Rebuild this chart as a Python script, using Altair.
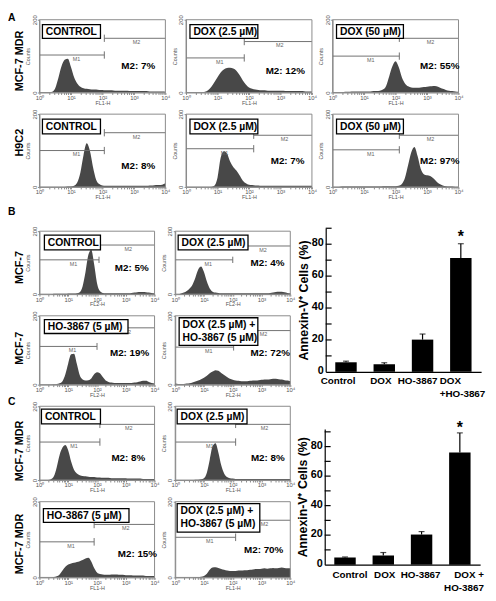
import altair as alt
import pandas as pd

FONT = "Liberation Sans"

# ---------------- data ----------------
# histogram bin positions (log10 of fluorescence) and counts per bin
LOG_BINS = [i / 10 for i in range(41)]

A1_COUNTS = [0, 0, 0, 0, 2, 12, 40, 72, 90, 93, 70, 42, 25, 16, 12, 10, 9, 8, 8, 7, 7,
             6, 6, 6, 5, 5, 5, 5, 5, 4, 4, 4, 4, 4, 4, 3, 3, 3, 3, 3, 2]
A2_COUNTS = [0, 0, 0, 0, 0, 0, 2, 6, 15, 28, 42, 55, 63, 67, 68, 66, 60, 48, 34, 22, 14,
             10, 8, 7, 6, 6, 5, 5, 5, 5, 5, 5, 4, 4, 4, 4, 4, 4, 3, 3, 3]
A3_COUNTS = [0, 0, 0, 1, 2, 2, 3, 3, 3, 3, 3, 3, 3, 4, 4, 5, 8, 18, 45, 72, 86,
             70, 42, 25, 17, 14, 13, 13, 14, 15, 16, 17, 18, 17, 14, 10, 7, 5, 4, 3, 2]
A4_COUNTS = [0, 0, 0, 0, 0, 0, 0, 0, 0, 1, 1, 3, 12, 40, 88, 120, 100, 55, 20, 8, 4,
             3, 3, 3, 3, 3, 3, 3, 3, 3, 3, 3, 3, 3, 3, 4, 4, 5, 5, 6, 10]
A5_COUNTS = [0, 0, 0, 0, 0, 0, 0, 0, 0, 3, 25, 80, 98, 92, 70, 55, 45, 32, 18, 10, 6,
             5, 4, 4, 3, 3, 3, 3, 3, 3, 3, 3, 3, 3, 3, 3, 3, 3, 3, 3, 3]
A6_COUNTS = [0, 0, 0, 1, 1, 1, 1, 1, 1, 1, 1, 1, 1, 1, 1, 1, 2, 2, 2, 2, 2,
             3, 8, 25, 60, 95, 110, 85, 50, 35, 32, 30, 24, 15, 8, 4, 2, 1, 1, 0, 0]
B1_COUNTS = [0, 0, 0, 0, 0, 1, 1, 1, 1, 1, 2, 2, 2, 3, 6, 25, 70, 125, 140, 95, 35,
             10, 4, 3, 3, 3, 3, 3, 3, 3, 3, 3, 4, 5, 6, 7, 7, 6, 5, 4, 3]
B2_COUNTS = [0, 0, 2, 5, 10, 18, 30, 52, 78, 88, 70, 40, 18, 8, 5, 4, 3, 3, 3, 3, 3,
             3, 3, 3, 3, 3, 3, 3, 3, 3, 3, 3, 3, 4, 5, 7, 8, 8, 6, 4, 3]
B3_COUNTS = [0, 0, 0, 0, 0, 1, 2, 4, 10, 30, 62, 88, 90, 60, 27, 15, 12, 13, 18, 30, 36,
             33, 22, 12, 8, 6, 5, 5, 5, 5, 5, 5, 5, 6, 7, 9, 11, 11, 8, 5, 3]
B4_COUNTS = [3, 2, 2, 2, 3, 4, 6, 9, 12, 16, 20, 26, 33, 38, 42, 40, 34, 28, 22, 17, 14,
             12, 11, 10, 10, 10, 11, 12, 12, 13, 14, 15, 15, 16, 17, 17, 16, 15, 13, 12, 10]
C1_COUNTS = [0, 0, 0, 0, 2, 10, 35, 68, 88, 95, 80, 50, 28, 18, 13, 11, 10, 9, 8, 8, 7,
             7, 6, 6, 6, 5, 5, 5, 5, 5, 5, 4, 4, 4, 4, 4, 3, 3, 3, 3, 3]
C2_COUNTS = [0, 0, 0, 0, 0, 0, 0, 1, 1, 2, 5, 20, 55, 92, 100, 75, 40, 18, 8, 5, 4,
             3, 3, 3, 3, 3, 3, 3, 3, 3, 3, 3, 3, 3, 3, 3, 3, 3, 3, 3, 3]
C3_COUNTS = [0, 0, 0, 0, 0, 1, 3, 8, 18, 28, 34, 37, 39, 41, 43, 46, 50, 52, 42, 25, 13,
             9, 8, 7, 7, 8, 8, 8, 7, 7, 6, 6, 6, 5, 5, 5, 5, 4, 4, 4, 4]
C4_COUNTS = [0, 0, 0, 0, 0, 0, 0, 1, 1, 2, 4, 10, 20, 26, 27, 25, 22, 20, 18, 17, 17,
             17, 18, 18, 19, 19, 20, 21, 22, 22, 23, 24, 23, 24, 25, 24, 25, 26, 25, 24, 24]

for _arr in [A1_COUNTS, A2_COUNTS, A3_COUNTS, A4_COUNTS, A5_COUNTS, A6_COUNTS,
             B1_COUNTS, B2_COUNTS, B3_COUNTS, B4_COUNTS,
             C1_COUNTS, C2_COUNTS, C3_COUNTS, C4_COUNTS]:
    assert len(_arr) == len(LOG_BINS), len(_arr)

# bar charts (mean % Annexin-V+ cells and error)
BAR_CATS = ["Control", "DOX", "HO-3867", "DOX+HO-3867"]
B_BAR_VALUES = [6.0, 4.7, 20.2, 71.3]
B_BAR_ERRORS = [0.7, 1.0, 3.5, 9.0]
C_BAR_VALUES = [4.9, 6.2, 20.4, 76.0]
C_BAR_ERRORS = [0.3, 2.0, 2.0, 13.3]
BAR_TICK_LABELS = [0, 20, 40, 60, 80]

# panel texts: label lines, M2 percentage text, gate (M1 end log10, M1 level, M2 level)
PANELS = {
    "A1": dict(counts=A1_COUNTS, lines=["CONTROL"], m2="M2: 7%", gate=(2.06, 103, 149), xt="FL1-H"),
    "A2": dict(counts=A2_COUNTS, lines=["DOX (2.5 µM)"], m2="M2: 12%", gate=(1.85, 95, 140), xt="FL1-H"),
    "A3": dict(counts=A3_COUNTS, lines=["DOX (50 µM)"], m2="M2: 55%", gate=(2.12, 100, 149), xt="FL1-H"),
    "A4": dict(counts=A4_COUNTS, lines=["CONTROL"], m2="M2: 8%", gate=(2.06, 100, 149), xt="FL1-H"),
    "A5": dict(counts=A5_COUNTS, lines=["DOX (2.5 µM)"], m2="M2: 7%", gate=(2.15, 105, 142), xt="FL1-H"),
    "A6": dict(counts=A6_COUNTS, lines=["DOX (50 µM)"], m2="M2: 97%", gate=(2.12, 102, 142), xt="FL1-H"),
    "B1": dict(counts=B1_COUNTS, lines=["CONTROL"], m2="M2: 5%", gate=(2.07, 109, 156), xt="FL2-H"),
    "B2": dict(counts=B2_COUNTS, lines=["DOX (2.5 µM)"], m2="M2: 4%", gate=(2.0, 109, 153), xt="FL2-H"),
    "B3": dict(counts=B3_COUNTS, lines=["HO-3867 (5 µM)"], m2="M2: 19%", gate=(2.0, 111, 165), xt="FL2-H"),
    "B4": dict(counts=B4_COUNTS, lines=["DOX (2.5 µM) +", "HO-3867 (5 µM)"], m2="M2: 72%", gate=(2.03, 109, 157), xt="FL2-H"),
    "C1": dict(counts=C1_COUNTS, lines=["CONTROL"], m2="M2: 8%", gate=(2.1, 103, 151), xt="FL1-H"),
    "C2": dict(counts=C2_COUNTS, lines=["DOX (2.5 µM)"], m2="M2: 8%", gate=(2.1, 103, 151), xt="FL1-H"),
    "C3": dict(counts=C3_COUNTS, lines=["HO-3867 (5 µM)"], m2="M2: 15%", gate=(1.9, 94, 140), xt="FL1-H"),
    "C4": dict(counts=C4_COUNTS, lines=["DOX (2.5 µM) +", "HO-3867 (5 µM)"], m2="M2: 70%", gate=(2.1, 106, 151), xt="FL1-H"),
}

# layout / styling (pixels): label box (x1, x2, y1, y2), M2 text position (log10 x, count y)
STYLE = {
    "A1": dict(box=(3, 62, 5, 19), m2pos=(2.6, 73)),
    "A2": dict(box=(4, 73, 5, 19), m2pos=(2.53, 59)),
    "A3": dict(box=(4, 72, 5, 19), m2pos=(2.78, 73)),
    "A4": dict(box=(3, 62, 5, 20), m2pos=(2.6, 57)),
    "A5": dict(box=(4, 73, 5, 20), m2pos=(2.69, 70)),
    "A6": dict(box=(4, 72, 5, 20), m2pos=(2.78, 70)),
    "B1": dict(box=(5, 62, 4, 19), m2pos=(2.62, 84)),
    "B2": dict(box=(3, 74, 4, 19), m2pos=(2.62, 100)),
    "B3": dict(box=(5, 90, 4, 18), m2pos=(2.45, 91)),
    "B4": dict(box=(4, 84, 2, 30), m2pos=(2.62, 91)),
    "C1": dict(box=(2, 62, 3, 18), m2pos=(2.5, 59)),
    "C2": dict(box=(2, 73, 3, 18), m2pos=(2.63, 59)),
    "C3": dict(box=(4, 91, 7, 21), m2pos=(2.72, 62)),
    "C4": dict(box=(2, 86, 2, 31), m2pos=(2.39, 73)),
}

X_TICKS = [m * 10 ** e for e in range(4) for m in range(1, 10)] + [10000]
X_LABEL_EXPR = ("datum.value == 1 ? '10⁰' : datum.value == 10 ? '10¹' : "
                "datum.value == 100 ? '10²' : datum.value == 1000 ? '10³' : "
                "datum.value == 10000 ? '10⁴' : ''")

ONE = pd.DataFrame({"k": [0]})
GREY_TXT = "#555555"
GREY_LINE = "#8a8a8a"
CELL_W = 128


def histogram(key, h, xoff=0, pw=128, row_label=None, row_dy=0, letter=None, letter_y=0):
    p, s = PANELS[key], STYLE[key]
    data = pd.DataFrame({"x": [10 ** b for b in LOG_BINS], "count": p["counts"]})
    xs = alt.Scale(type="log", domain=[1, 10000], nice=False, range=[xoff, xoff + pw])
    ys = alt.Scale(domain=[0, 200], nice=False)
    x_axis = alt.Axis(values=X_TICKS, labelExpr=X_LABEL_EXPR, title=p["xt"], labelFontSize=6,
                      labelColor=GREY_TXT, labelPadding=0, labelOverlap=False, labelFlush=False,
                      tickSize=2, tickColor=GREY_LINE, domainColor=GREY_LINE, grid=False,
                      titleFontSize=5.5, titleFontWeight="normal", titleColor=GREY_TXT, titlePadding=0)
    y_axis = alt.Axis(values=[0, 40, 80, 120, 160, 200], labelAngle=270, labelAlign="center",
                      labelBaseline="bottom", labelFontSize=6, labelColor=GREY_TXT, labelPadding=0.5,
                      labelOverlap=False, labelFlush=False, offset=-xoff,
                      tickSize=2, tickColor=GREY_LINE, domainColor=GREY_LINE, grid=False,
                      title="Counts", titleFontSize=5.5, titleFontWeight="normal",
                      titleColor=GREY_TXT, titlePadding=0.5)
    area = alt.Chart(data).mark_area(color="#484848", interpolate="monotone").encode(
        x=alt.X("x:Q", scale=xs, axis=x_axis), y=alt.Y("count:Q", scale=ys, axis=y_axis))

    g, m1, m2 = p["gate"]
    ge = 10 ** g
    gh = pd.DataFrame({"x1": [1, ge], "x2": [ge, 10000], "y": [m1, m2]})
    gv = pd.DataFrame({"x": [ge, ge], "y1": [m1 - 10, m2 - 10], "y2": [m1 + 10, m2 + 10]})
    gl = pd.DataFrame({"x": [10 ** (g / 2 + 0.15), 10 ** ((g + 4) / 2 + 0.05)],
                       "y": [m1, m2], "t": ["M1", "M2"]})
    hrule = alt.Chart(gh).mark_rule(color="#707070", strokeWidth=1).encode(x="x1:Q", x2="x2:Q", y="y:Q")
    vrule = alt.Chart(gv).mark_rule(color="#707070", strokeWidth=1).encode(x="x:Q", y="y1:Q", y2="y2:Q")
    glab = alt.Chart(gl).mark_text(fontSize=5.5, color="#666666", baseline="top", dy=2).encode(
        x="x:Q", y="y:Q", text="t:N")

    frame = alt.Chart(ONE).mark_rect(filled=False, color=GREY_LINE, strokeWidth=1).encode(
        x=alt.value(xoff), x2=alt.value(xoff + pw), y=alt.value(0), y2=alt.value(h))

    bx1, bx2, by1, by2 = s["box"]
    box = alt.Chart(ONE).mark_rect(fill="white", stroke="black", strokeWidth=1.3).encode(
        x=alt.value(xoff + bx1), x2=alt.value(xoff + bx2), y=alt.value(by1), y2=alt.value(by2))
    layers = [area, hrule, vrule, glab, frame, box]
    if len(p["lines"]) == 1:
        centers = [(by1 + by2) / 2 + 0.5]
    else:
        centers = [by1 + 7.5, by1 + 20.5]
    for line, cy in zip(p["lines"], centers):
        layers.append(alt.Chart(ONE).mark_text(align="left", baseline="middle", fontSize=10.5,
                                               fontWeight="bold", color="black").encode(
            x=alt.value(xoff + bx1 + 3.5), y=alt.value(cy), text=alt.value(line)))

    mx, my = s["m2pos"]
    m2df = pd.DataFrame({"x": [10 ** mx], "y": [my], "t": [p["m2"]]})
    layers.append(alt.Chart(m2df).mark_text(align="left", baseline="middle", fontSize=10,
                                            fontWeight="bold", color="black").encode(
        x="x:Q", y="y:Q", text="t:N"))
    if row_label:
        layers.append(alt.Chart(ONE).mark_text(angle=270, fontSize=11, fontWeight="bold",
                                               color="black", align="center", baseline="middle").encode(
            x=alt.value(xoff - 20), y=alt.value(h / 2 + row_dy), text=alt.value(row_label)))
    if letter:
        layers.append(alt.Chart(ONE).mark_text(align="left", baseline="top", fontSize=10.5,
                                               fontWeight="bold", color="black").encode(
            x=alt.value(xoff - 32), y=alt.value(letter_y), text=alt.value(letter)))
    return alt.layer(*layers).properties(width=CELL_W, height=h)


def bar_host(values, errors, cell_h, y_base, y_top, ymax, x0, labels, star_dy):
    w = 158
    df = pd.DataFrame({"cat": BAR_CATS, "v": values, "e": errors})
    df["top"] = df["v"] + df["e"]
    xs = alt.Scale(domain=BAR_CATS, paddingInner=0.44, paddingOuter=0.25, range=[x0, x0 + w])
    ys = alt.Scale(domain=[0, ymax], nice=False, range=[y_base, y_top])
    base = alt.Chart(df)
    bars = base.mark_bar(color="black").encode(
        x=alt.X("cat:N", scale=xs, axis=alt.Axis(labels=False, ticks=False, title=None,
                                                 domainColor="black", domainWidth=1.2,
                                                 offset=y_base - cell_h)),
        y=alt.Y("v:Q", scale=ys, axis=alt.Axis(labels=False, ticks=False, grid=False,
                                               title="Annexin-V⁺ Cells (%)", titleFontSize=12.5,
                                               titleFontWeight="bold", titleColor="black",
                                               titlePadding=16, domainColor="black",
                                               domainWidth=1.2, offset=-x0)))
    err = base.mark_rule(color="black", strokeWidth=1.2).encode(x="cat:N", y="v:Q", y2="top:Q")
    caps = base.mark_tick(color="black", thickness=1.2, size=6).encode(x="cat:N", y="top:Q")
    star = base.transform_filter(alt.datum.cat == "DOX+HO-3867").mark_text(
        text="*", fontSize=16, fontWeight="bold", baseline="alphabetic", dy=star_dy).encode(
        x="cat:N", y="top:Q")
    tick_df = pd.DataFrame({"t": list(range(10, int(ymax) + 1, 10))})
    ticks = alt.Chart(tick_df).mark_rule(color="black", strokeWidth=1.2).encode(
        y="t:Q", x=alt.value(x0), x2=alt.value(x0 + 6))
    lab_df = pd.DataFrame({"t": BAR_TICK_LABELS})
    ylabs = alt.Chart(lab_df).mark_text(align="right", baseline="middle", fontSize=11,
                                        fontWeight="bold", color="black", dy=-1).encode(
        y="t:Q", x=alt.value(x0 - 2), text="t:Q")
    layers = [bars, err, caps, star, ticks, ylabs]
    for cat, lines, align, dx, ys_off in labels:
        for line, yo in zip(lines, ys_off):
            ldf = pd.DataFrame({"cat": [cat]})
            layers.append(alt.Chart(ldf).mark_text(align=align, baseline="middle", dx=dx,
                                                   fontSize=10, fontWeight="bold",
                                                   color="black").encode(
                x="cat:N", y=alt.value(y_base + yo), text=alt.value(line)))
    return alt.layer(*layers).properties(width=130, height=cell_h)


def blank():
    return alt.Chart(ONE).mark_point(opacity=0).encode(
        x=alt.value(0), y=alt.value(0)).properties(width=1, height=1)


# row heights (plot areas): A 74/74, gap row 1, B 64/70, C 75/77; row spacing 22
cells = [
    histogram("A1", 74, row_label="MCF-7 MDR", row_dy=5, letter="A", letter_y=-7),
    histogram("A2", 74),
    histogram("A3", 74),
    histogram("A4", 74, row_label="H9C2", row_dy=-8),
    histogram("A5", 74),
    histogram("A6", 74),
    blank(), blank(), blank(),
    histogram("B1", 64, 0, 117, row_label="MCF-7", row_dy=5, letter="B", letter_y=-24),
    histogram("B2", 64, -11, 117),
    bar_host(B_BAR_VALUES, B_BAR_ERRORS, 64, 143, -3, 90, -7,
             [("Control", ["Control"], "center", -8, [9]),
              ("DOX", ["DOX"], "center", -3.5, [9]),
              ("HO-3867", ["HO-3867"], "center", -5, [9]),
              ("DOX+HO-3867", ["DOX", "+HO-3867"], "left", -21.5, [9, 23])], -2),
    histogram("B3", 70, 0, 117, row_label="MCF-7", row_dy=-2),
    histogram("B4", 70, -11, 117),
    blank(),
    histogram("C1", 75, 0, 117, row_label="MCF-7 MDR", row_dy=8, letter="C", letter_y=-9),
    histogram("C2", 75, -11, 117),
    bar_host(C_BAR_VALUES, C_BAR_ERRORS, 75, 161, 23, 92, -8,
             [("Control", ["Control"], "center", 5, [11]),
              ("DOX", ["DOX"], "center", 1.5, [11]),
              ("HO-3867", ["HO-3867"], "center", -1, [11]),
              ("DOX+HO-3867", ["DOX +", "HO-3867"], "right", 24.5, [11, 24])], 0),
    histogram("C3", 77, 0, 117, row_label="MCF-7 MDR", row_dy=4.5),
    histogram("C4", 77, -11, 117),
    blank(),
]

chart = alt.concat(*cells, columns=3, spacing={"row": 22, "column": 21},
                   bounds="flush", align="each").properties(
    padding=0
).configure(font=FONT).configure_view(stroke=None).configure_axis(
    labelFont=FONT, titleFont=FONT
).configure_text(font=FONT)

chart.save("out.html", embed_options={"renderer": "svg", "actions": False})
